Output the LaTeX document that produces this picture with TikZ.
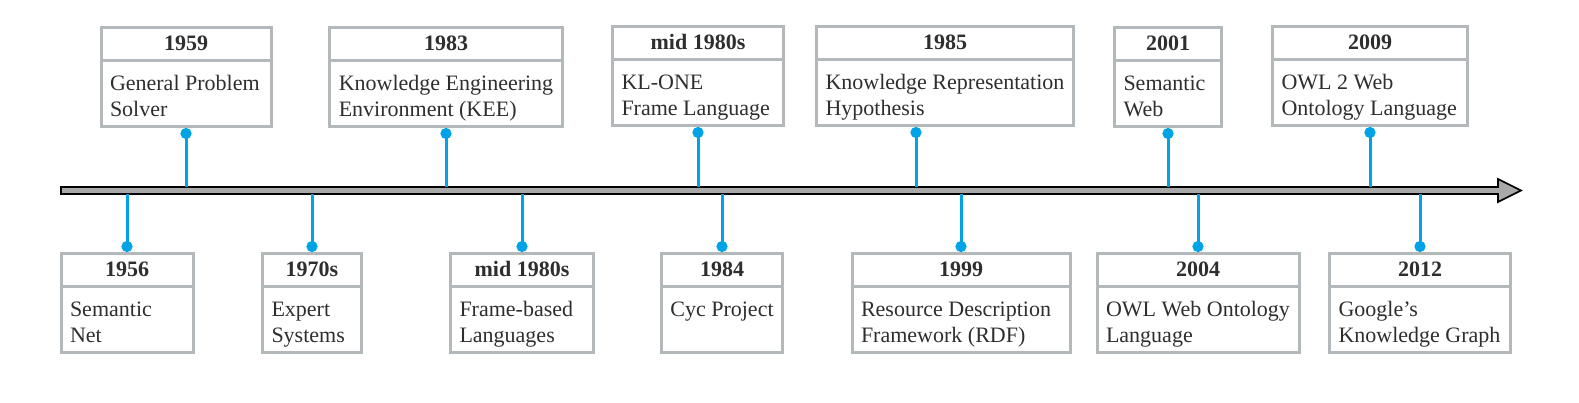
\documentclass[tikz,border=0pt]{standalone}
\usepackage{fontspec}
\setmainfont{Liberation Serif}
\usetikzlibrary{arrows.meta,shapes.multipart}
\definecolor{boxgray}{HTML}{B3B8BB}
\definecolor{linkblue}{HTML}{00A3E6}
\definecolor{bargray}{HTML}{A9A9A9}
\definecolor{inkgray}{HTML}{2E2E2E}
\newcommand{\tstrut}{\rule[-2.25pt]{0pt}{11pt}}
\newcommand{\fstrut}{\rule{0pt}{12.25pt}}
\newcommand{\lstrut}{\rule[-2.25pt]{0pt}{2.25pt}}

\begin{document}
\begin{tikzpicture}[
  x=0.5pt, y=-0.5pt,
  event/.style={rectangle split, rectangle split parts=2, rectangle split part align={center,left},
    draw=boxgray, line width=1.5pt, align=left, inner xsep=4.5pt, inner ysep=2pt,
    text=inkgray, font=\fontsize{11}{13}\selectfont},
  above/.style={event, anchor=south},
  below/.style={event, anchor=north},
  link/.style={draw=linkblue, line width=1.5pt},
  dotlink/.style={link, {Circle[length=5.5pt]}-}
]
  \useasboundingbox (0,0) rectangle (1579,402);

  % time axis
  \draw[fill=bargray, line width=0.8pt] (61,187) -- (1498,187) -- (1498,179) -- (1521,190.5)
    -- (1498,202) -- (1498,194) -- (61,194) -- cycle;
  \coordinate (bartop) at (0,187);
  \coordinate (barbot) at (0,194);

  % events above the axis
  \node[above, minimum width=85pt] (gps) at (186,128)
    {\tstrut\textbf{1959}\nodepart{two}\fstrut General Problem\\Solver\lstrut};
  \node[above, minimum width=114.5pt] (kee) at (446,128)
    {\tstrut\textbf{1983}\nodepart{two}\fstrut Knowledge Engineering\\Environment (KEE)\lstrut};
  \node[above, minimum width=85.5pt] (klone) at (698,127)
    {\tstrut\textbf{mid 1980s}\nodepart{two}\fstrut KL-ONE\\Frame Language\lstrut};
  \node[above, minimum width=128pt] (krh) at (945,127)
    {\tstrut\textbf{1985}\nodepart{two}\fstrut Knowledge Representation\\Hypothesis\lstrut};
  \node[above, minimum width=53.5pt] (semweb) at (1168,128)
    {\tstrut\textbf{2001}\nodepart{two}\fstrut Semantic\\Web\lstrut};
  \node[above, minimum width=97.5pt] (owltwo) at (1370,127)
    {\tstrut\textbf{2009}\nodepart{two}\fstrut OWL 2 Web\\Ontology Language\lstrut};

  % events below the axis
  \node[below, minimum width=66pt] (snet) at (127,252)
    {\tstrut\textbf{1956}\nodepart{two}\fstrut Semantic\\Net\lstrut};
  \node[below, minimum width=49.5pt] (xsys) at (312,252)
    {\tstrut\textbf{1970s}\nodepart{two}\fstrut Expert\\Systems\lstrut};
  \node[below, minimum width=71.5pt] (frame) at (522,252)
    {\tstrut\textbf{mid 1980s}\nodepart{two}\fstrut Frame-based\\Languages\lstrut};
  \node[below, minimum width=59.5pt] (cyc) at (722,252)
    {\tstrut\textbf{1984}\nodepart{two}\fstrut Cyc Project\\\lstrut};
  \node[below, minimum width=109pt] (rdf) at (961,252)
    {\tstrut\textbf{1999}\nodepart{two}\fstrut Resource Description\\Framework (RDF)\lstrut};
  \node[below, minimum width=97.5pt] (owl) at (1198,252)
    {\tstrut\textbf{2004}\nodepart{two}\fstrut OWL Web Ontology\\Language\lstrut};
  \node[below, minimum width=90.5pt] (kgraph) at (1420,252)
    {\tstrut\textbf{2012}\nodepart{two}\fstrut Google's\\Knowledge Graph\lstrut};

  % connectors
  \draw[dotlink] (gps.south) -- (gps.south |- bartop);
  \draw[dotlink] (kee.south) -- (kee.south |- bartop);
  \draw[dotlink] (klone.south) -- (klone.south |- bartop);
  \draw[dotlink] ([xshift=-14.5pt]krh.south) -- ([xshift=-14.5pt]krh.south |- bartop);
  \draw[dotlink] (semweb.south) -- (semweb.south |- bartop);
  \draw[dotlink] (owltwo.south) -- (owltwo.south |- bartop);

  \draw[dotlink] (snet.north) -- (snet.north |- barbot);
  \draw[dotlink] (xsys.north) -- (xsys.north |- barbot);
  \draw[dotlink] (frame.north) -- (frame.north |- barbot);
  \draw[dotlink] (cyc.north) -- (cyc.north |- barbot);
  \draw[dotlink] (rdf.north) -- (rdf.north |- barbot);
  \draw[dotlink] (owl.north) -- (owl.north |- barbot);
  \draw[dotlink] (kgraph.north) -- (kgraph.north |- barbot);
\end{tikzpicture}
\end{document}
